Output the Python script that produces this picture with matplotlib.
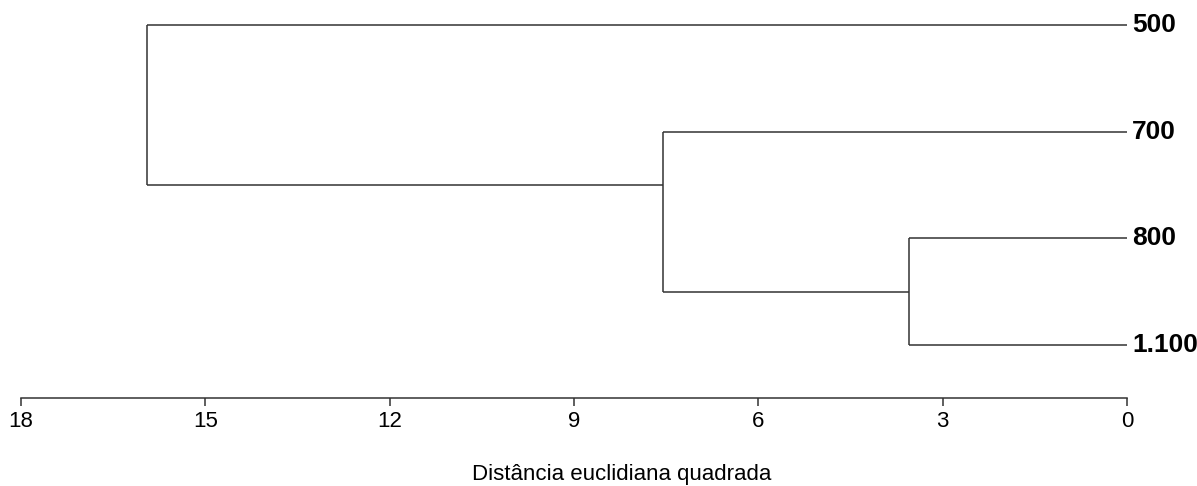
import matplotlib
matplotlib.use("Agg")
import matplotlib.pyplot as plt

# Data
leaves = ["500", "700", "800", "1.100"]
# merges: (child_a, child_b, height); children: leaf index or "cN" cluster index
merge_a = [2, 1, 0]
merge_b = [3, "c0", "c1"]
merge_height = [3.55, 7.55, 15.95]
tick_values = [18, 15, 12, 9, 6, 3, 0]
xlabel = "Distância euclidiana quadrada"

plt.rcParams['font.family'] = ['Liberation Sans', 'DejaVu Sans']

fig = plt.figure(figsize=(11.97, 4.86), dpi=100)
ax = fig.add_axes([21/1197, 1 - 398/486, (1127 - 21)/1197, (398 - 3.7)/486])

line_kw = dict(color="#333333", lw=1.1, solid_capstyle="butt")

def node_info(n, clusters):
    if isinstance(n, str):
        return clusters[int(n[1:])]
    return (0.0, float(n), float(n))

clusters = []
for a, b, h in zip(merge_a, merge_b, merge_height):
    xa, ya, fa = node_info(a, clusters)
    xb, yb, fb = node_info(b, clusters)
    ax.plot([xa, h], [ya, ya], **line_kw)
    ax.plot([xb, h], [yb, yb], **line_kw)
    ax.plot([h, h], [ya, yb], **line_kw)
    y_new = (fa + fb) / 2.0
    clusters.append((h, y_new, min(fa, fb)))

for i, name in enumerate(leaves):
    ax.text(-0.08, i, name, ha="left", va="center", fontsize=19,
            fontweight="bold", clip_on=False)

ax.set_xlim(18, 0)
ax.set_ylim(3.497, -0.2)
ax.set_xticks(tick_values)
ax.set_xticklabels([str(t) for t in tick_values], fontsize=16)
ax.set_yticks([])
for s in ["top", "left", "right"]:
    ax.spines[s].set_visible(False)
ax.spines["bottom"].set_color("#333333")
ax.spines["bottom"].set_linewidth(1.1)
ax.tick_params(axis="x", length=6, width=1.1, color="#333333", pad=3)

fig.text(622 / 1197, 1.5 / 486, xlabel, ha="center", va="bottom", fontsize=16)

fig.savefig("out.png", dpi=100)
